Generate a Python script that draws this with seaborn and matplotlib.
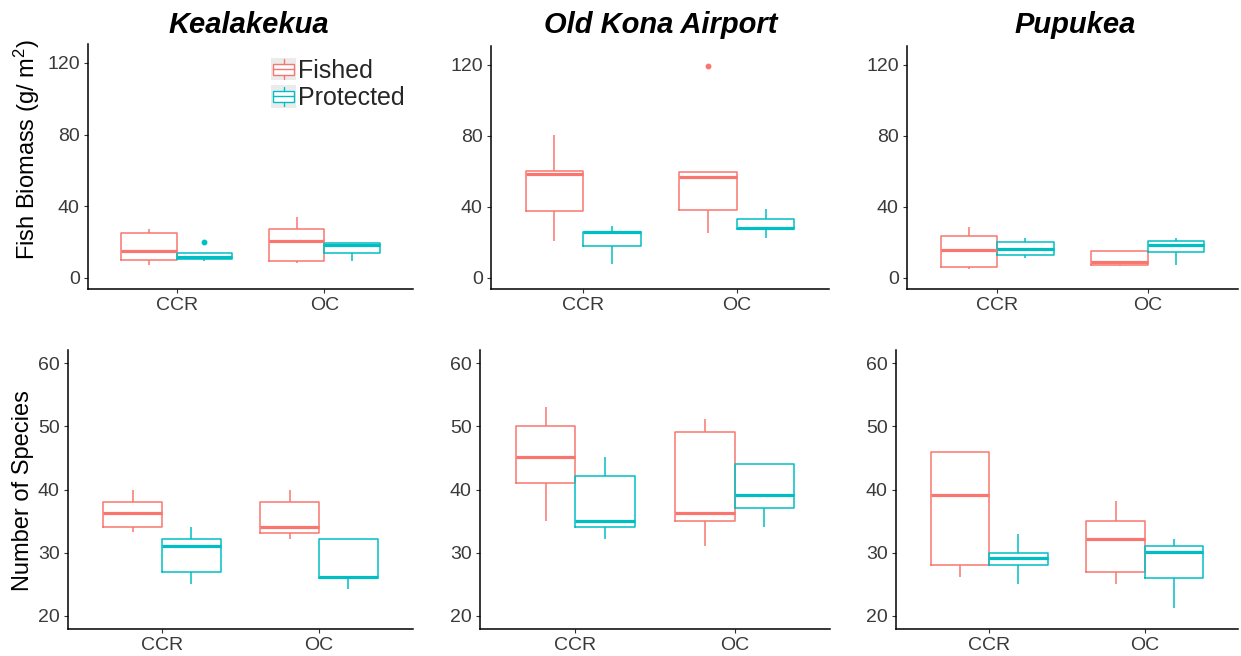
import pandas as pd
import seaborn as sns
import matplotlib
matplotlib.use("Agg")
import matplotlib.pyplot as plt
from matplotlib.patches import Rectangle, Patch
from matplotlib.lines import Line2D
from matplotlib.legend_handler import HandlerBase

sites = ["Kealakekua", "Old Kona Airport", "Pupukea"]
habitats = ["CCR", "OC"]
protection = ["Fished", "Protected"]
colors = ["#F8766D", "#00BFC4"]

# Survey values, one row per group in the order:
# (CCR, Fished), (CCR, Protected), (OC, Fished), (OC, Protected)
kealakekua_biomass = [
    [7.0, 9.8, 15.2, 25.0, 27.4],
    [9.6, 10.7, 11.6, 13.9, 19.8],
    [8.3, 9.6, 20.5, 27.4, 34.2],
    [9.2, 13.9, 18.5, 19.2, 19.2],
]
oldkona_biomass = [
    [20.7, 37.4, 58.5, 60.0, 80.5],
    [7.8, 17.9, 25.7, 26.1, 29.4],
    [25.3, 38.1, 56.8, 59.6, 119.0],
    [22.6, 27.4, 28.3, 33.3, 38.9],
]
pupukea_biomass = [
    [5.0, 6.0, 15.9, 23.6, 28.6],
    [11.0, 12.9, 16.1, 20.2, 22.4],
    [6.5, 7.3, 9.0, 15.0, 15.0],
    [7.1, 14.8, 18.7, 20.7, 22.4],
]
kealakekua_species = [
    [33.2, 34.0, 36.2, 38.0, 39.9],
    [25.1, 26.9, 31.1, 32.1, 34.0],
    [32.2, 33.1, 34.1, 38.0, 40.0],
    [24.2, 26.0, 26.1, 32.1, 32.1],
]
oldkona_species = [
    [35.0, 41.1, 45.2, 50.1, 53.0],
    [32.2, 34.0, 35.0, 42.1, 45.2],
    [31.0, 35.0, 36.2, 49.1, 51.1],
    [34.1, 37.1, 39.1, 44.0, 44.0],
]
pupukea_species = [
    [26.1, 28.1, 39.1, 46.0, 46.0],
    [25.1, 28.0, 29.1, 30.0, 33.0],
    [25.1, 26.9, 32.2, 35.0, 38.1],
    [21.2, 26.0, 30.1, 31.0, 32.2],
]

biomass_ticks = [0, 40, 80, 120]
species_ticks = [20, 30, 40, 50, 60]

biomass_data = [kealakekua_biomass, oldkona_biomass, pupukea_biomass]
species_data = [kealakekua_species, oldkona_species, pupukea_species]
groups = [(h, p) for h in habitats for p in protection]


def to_frame(rows):
    records = []
    for (hab, prot), vals in zip(groups, rows):
        for v in vals:
            records.append({"habitat": hab, "protection": prot, "value": v})
    return pd.DataFrame(records)


sns.set_style("ticks")
plt.rcParams["font.family"] = ["Liberation Sans", "DejaVu Sans"]
plt.rcParams["mathtext.fontset"] = "custom"
plt.rcParams["mathtext.rm"] = "Liberation Sans"

W, H = 1241, 656
fig = plt.figure(figsize=(W / 100, H / 100), dpi=100)


def px_axes(x0, y0, x1, y1):
    return fig.add_axes([x0 / W, 1 - y1 / H, (x1 - x0) / W, (y1 - y0) / H])


top_boxes = [(88, 44, 413, 289), (491, 46, 829, 289), (907, 46, 1238, 289)]
bottom_boxes = [(68, 350, 413, 629), (480, 350, 830, 629), (896, 350, 1238, 629)]

tick_color = "#3a3a3a"


def draw_panel(ax, rows, ticks, ylim):
    sns.boxplot(
        data=to_frame(rows), x="habitat", y="value", hue="protection",
        order=habitats, hue_order=protection, palette=colors,
        fill=False, width=0.75, gap=0, linewidth=1.1, showcaps=False,
        whis=1.5, medianprops={"linewidth": 2.3},
        flierprops={"marker": "o", "markersize": 3.2},
        legend=False, ax=ax,
    )
    for ln in ax.lines:
        if ln.get_marker() == "o":
            ln.set_markerfacecolor(ln.get_markeredgecolor())
    ax.set_xlim(-0.6, 1.6)
    ax.set_ylim(*ylim)
    ax.set_yticks(ticks)
    ax.set_xlabel("")
    ax.set_ylabel("")
    sns.despine(ax=ax)
    for s in ("left", "bottom"):
        ax.spines[s].set_linewidth(1.1)
        ax.spines[s].set_color("black")
    ax.tick_params(axis="both", length=3, width=0.8, color="#333333",
                   labelsize=14, labelcolor=tick_color, pad=3)


top_axes = []
for box, rows in zip(top_boxes, biomass_data):
    ax = px_axes(*box)
    draw_panel(ax, rows, biomass_ticks, (-6.2, 130.5))
    top_axes.append(ax)

for box, rows in zip(bottom_boxes, species_data):
    ax = px_axes(*box)
    draw_panel(ax, rows, species_ticks, (17.9, 62.1))

# Site titles
for name, cx in zip(sites, [249, 661, 1075]):
    fig.text(cx / W, 1 - 33 / H, name, ha="center", va="baseline",
             fontsize=21, fontweight="bold", fontstyle="italic", color="black")

# Row labels
fig.text(27 / W, 1 - 150 / H, r"Fish Biomass (g/ m$\mathregular{^2}$)",
         rotation=90, ha="center", va="center", fontsize=17, color="black")
fig.text(23 / W, 1 - 491 / H, "Number of Species",
         rotation=90, ha="center", va="center", fontsize=17, color="black")


class BoxKeyHandler(HandlerBase):
    def create_artists(self, legend, orig_handle, xdescent, ydescent,
                       width, height, fontsize, trans):
        color = orig_handle.get_edgecolor()
        x0, y0 = -xdescent, -ydescent
        bg = Rectangle((x0, y0), width, height, facecolor="#EBEBEB",
                       edgecolor="none", transform=trans)
        cx = x0 + width / 2
        bw, bh = width * 0.86, height * 0.5
        by = y0 + (height - bh) / 2
        box = Rectangle((cx - bw / 2, by), bw, bh, facecolor="white",
                        edgecolor=color, lw=1.0, transform=trans)
        med = Line2D([cx - bw / 2, cx + bw / 2], [by + bh / 2] * 2,
                     color=color, lw=1.0, transform=trans)
        wl = Line2D([cx, cx], [y0 + height * 0.06, by], color=color,
                    lw=1.0, transform=trans)
        wu = Line2D([cx, cx], [by + bh, y0 + height * 0.94], color=color,
                    lw=1.0, transform=trans)
        return [bg, box, med, wl, wu]


handles = [Patch(edgecolor=c, facecolor="white") for c in colors]
top_axes[0].legend(
    handles, protection, handler_map={Patch: BoxKeyHandler()},
    loc="upper left", bbox_to_anchor=(271 / W, 1 - 58 / H),
    bbox_transform=fig.transFigure, frameon=False, fontsize=18,
    handlelength=1.0, handleheight=1.0, handletextpad=0.08,
    labelspacing=0.1, borderpad=0, borderaxespad=0,
)

fig.savefig("out.png", dpi=100, facecolor="white")
